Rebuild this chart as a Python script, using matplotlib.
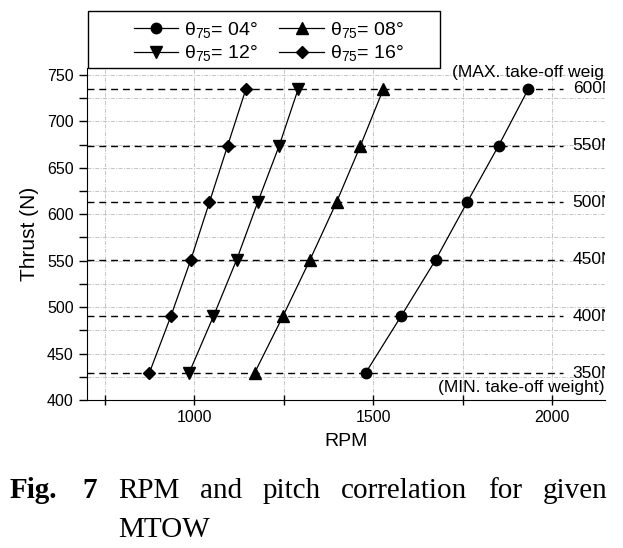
import matplotlib
matplotlib.use("Agg")
import matplotlib.pyplot as plt
from matplotlib.ticker import MultipleLocator
from matplotlib.patches import Rectangle
from matplotlib.transforms import Bbox, TransformedBbox

plt.rcParams['font.family'] = ['Liberation Sans', 'DejaVu Sans']
plt.rcParams['mathtext.fontset'] = 'custom'
plt.rcParams['mathtext.rm'] = 'Liberation Sans'
plt.rcParams['mathtext.it'] = 'Liberation Sans:italic'

# thrust levels (N) and the weight labels written at the right
thrust = [429, 490, 551, 613, 674, 735]
weight_labels = ['350N', '400N', '450N', '500N', '550N', '600N']

# RPM needed for each pitch angle
rpm_04 = [1478, 1577, 1674, 1762, 1850, 1933]
rpm_08 = [1168, 1247, 1323, 1397, 1464, 1528]
rpm_12 = [985, 1053, 1118, 1177, 1237, 1290]
rpm_16 = [874, 934, 990, 1042, 1093, 1144]

series = [
    (rpm_04, 'o', 7.5, r'θ$_{75}$= 04°'),
    (rpm_08, '^', 8.5, r'θ$_{75}$= 08°'),
    (rpm_12, 'v', 8.5, r'θ$_{75}$= 12°'),
    (rpm_16, 'D', 6.5, r'θ$_{75}$= 16°'),
]

W, H = 623, 548
fig = plt.figure(figsize=(W / 100, H / 100), dpi=100)
ax = fig.add_axes([87 / W, 1 - 400 / H, 518 / W, 332 / H])

ax.set_xlim(700, 2147)
ax.set_ylim(400, 757.5)

ax.xaxis.set_major_locator(MultipleLocator(500))
ax.xaxis.set_minor_locator(MultipleLocator(250))
ax.yaxis.set_major_locator(MultipleLocator(50))
ax.yaxis.set_minor_locator(MultipleLocator(25))
ax.grid(which='both', color='#c4c4c4', linestyle=(0, (4, 1.5, 1, 1.5)), lw=0.7)
ax.set_axisbelow(True)

ax.tick_params(axis='x', which='both', direction='inout', length=7, width=1, labelsize=11.5)
ax.tick_params(axis='y', which='both', direction='out', length=6, width=1, labelsize=11.5)
ax.spines['top'].set_visible(False)
ax.spines['right'].set_visible(False)

# clip the right-hand notes at the axes' right edge only (as in the cropped original)
clip = TransformedBbox(Bbox([[0, -0.2], [1, 1.3]]), ax.transAxes)

# horizontal weight lines
for t, lab in zip(thrust, weight_labels):
    ax.plot([700, 2030], [t, t], color='black', lw=1, dashes=(5, 3.5), zorder=2)
    tx = ax.text(2057, t, lab, fontsize=12.5, va='center', ha='left')
    tx.set_clip_box(clip)
    tx.set_clip_on(True)

for x, y, s in [(1721, 753, '(MAX. take-off weight)'), (1680, 413, '(MIN. take-off weight)')]:
    tx = ax.text(x, y, s, fontsize=12.6, va='center')
    tx.set_clip_box(clip)
    tx.set_clip_on(True)

handles = []
for rpm, m, ms, lab in series:
    h, = ax.plot(rpm, thrust, color='black', lw=0.9, marker=m, markersize=ms,
                 markerfacecolor='black', label=lab, zorder=3)
    handles.append(h)

ax.set_xlabel('RPM', fontsize=14, labelpad=6)
ax.set_ylabel('Thrust (N)', fontsize=15, labelpad=6)

# legend box sitting over the top of the axes
fig.patches.append(Rectangle((88 / W, 1 - 68 / H), 352 / W, 57 / H, transform=fig.transFigure,
                             facecolor='white', edgecolor='black', lw=1, zorder=4))
order = [handles[0], handles[2], handles[1], handles[3]]
fig.legend(order, [h.get_label() for h in order], loc='upper left',
           bbox_to_anchor=(116 / W, 1 - 2 / H), ncol=2, frameon=False, fontsize=14,
           handlelength=2.3, handletextpad=0.3, columnspacing=1.1, labelspacing=0.2)

# caption: bold "Fig. 7", then the first line justified out to the right edge
cap_font = dict(fontsize=21, family='Liberation Serif')
fig.text(10 / W, 1 - 498 / H, 'Fig.', fontweight='bold', **cap_font)
fig.text(82 / W, 1 - 498 / H, '7', fontweight='bold', **cap_font)
cap_words = ['RPM', 'and', 'pitch', 'correlation', 'for', 'given']
renderer = fig.canvas.get_renderer()
texts = [fig.text(0, 1 - 498 / H, w, **cap_font) for w in cap_words]
widths = [t.get_window_extent(renderer).width for t in texts]
x0, x1 = 118, 607
gap = (x1 - x0 - sum(widths)) / (len(cap_words) - 1)
x = x0
for t, wd in zip(texts, widths):
    t.set_x(x / W)
    x += wd + gap
fig.text(118 / W, 1 - 537 / H, 'MTOW', **cap_font)

fig.savefig('out.png', dpi=100)
